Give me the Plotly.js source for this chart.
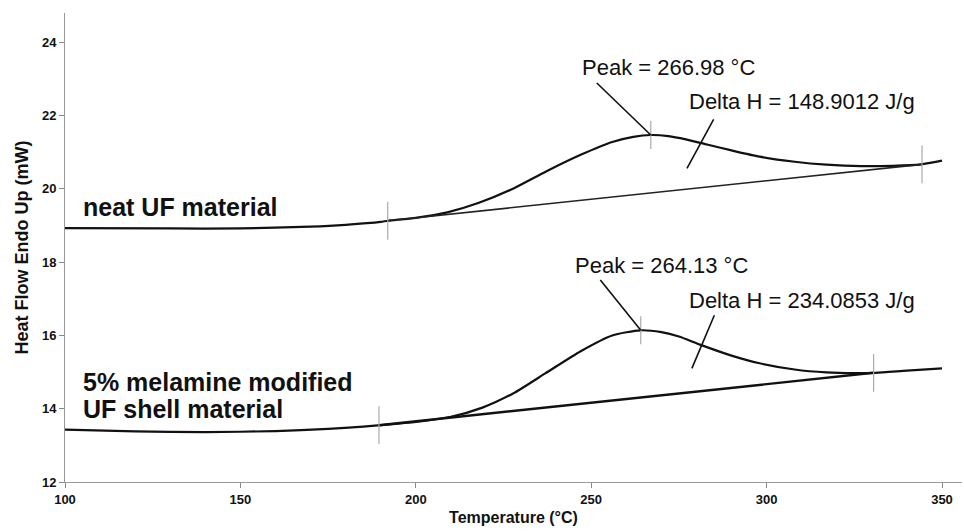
<!DOCTYPE html>
<html>
<head>
<meta charset="utf-8">
<script src="https://cdn.plot.ly/plotly-3.0.1.min.js"></script>
<style>html,body{margin:0;padding:0;background:#fff;}#chart{width:964px;height:532px;}</style>
</head>
<body>
<div id="chart"></div>
<script>
// Neat UF material DSC curve
const neatT = [100,130,150,170,180,190,192,200,209,218,228,237,247,256,262,267,272,277,283,290,298,308,317,327,336,344,350];
const neatHF = [18.93,18.92,18.92,18.97,19.02,19.10,19.13,19.21,19.36,19.62,20.02,20.47,20.93,21.28,21.42,21.47,21.44,21.35,21.21,21.05,20.88,20.74,20.66,20.62,20.63,20.67,20.77];
// 5% melamine modified UF shell material DSC curve
const melT = [100,120,140,160,175,185,190,200,210,219,228,237,247,256,264,270,275,281,290,298,308,317,325,331,340,350];
const melHF = [13.43,13.38,13.36,13.39,13.45,13.51,13.55,13.64,13.78,14.03,14.43,14.97,15.57,16.00,16.14,16.09,15.97,15.75,15.45,15.24,15.07,14.99,14.97,14.98,15.04,15.10];
// integration baselines
const neatBaseT = [192, 344.3];
const neatBaseHF = [19.13, 20.67];
const melBaseT = [189.5, 330.5];
const melBaseHF = [13.55, 14.98];
// integration limit / peak markers
const neatLimT = [192, 344.3];
const neatLimHF = [19.13, 20.67];
const neatPeakT = [266.98];
const neatPeakHF = [21.47];
const melLimT = [189.5, 330.5];
const melLimHF = [13.55, 14.98];
const melPeakT = [264.13];
const melPeakHF = [16.14];
// texts
const peakLabels = ['Peak = 266.98 °C', 'Peak = 264.13 °C'];
const deltaLabels = ['Delta H = 148.9012 J/g', 'Delta H = 234.0853 J/g'];
const sampleLabels = ['neat UF material', '5% melamine modified', 'UF shell material'];
const yTicks = [12,14,16,18,20,22,24];
const xTicks = [100,150,200,250,300,350];

const FONT = 'Liberation Sans, Arial, sans-serif';
const curveLine = {color:'#111', width:2.2, shape:'spline', smoothing:0.6};

const traces = [
  {x:neatT, y:neatHF, mode:'lines', line:curveLine, hoverinfo:'skip'},
  {x:melT, y:melHF, mode:'lines', line:curveLine, hoverinfo:'skip'},
  {x:neatBaseT, y:neatBaseHF, mode:'lines', line:{color:'#222', width:1.6}, hoverinfo:'skip'},
  {x:melBaseT, y:melBaseHF, mode:'lines', line:{color:'#111', width:2.4}, hoverinfo:'skip'},
  {x:neatLimT.concat(melLimT), y:neatLimHF.concat(melLimHF), mode:'markers',
   marker:{symbol:'line-ns-open', size:27, color:'#aaa', line:{color:'#aaa', width:1.2}}, hoverinfo:'skip'},
  {x:neatPeakT.concat(melPeakT), y:neatPeakHF.concat(melPeakHF), mode:'markers',
   marker:{symbol:'line-ns-open', size:20, color:'#aaa', line:{color:'#aaa', width:1.2}}, hoverinfo:'skip'}
];

// leader lines (annotation pointers)
const leaders = [
  [251.6, 22.89, neatPeakT[0], neatPeakHF[0]],
  [284.9, 21.90, 277.3, 20.56],
  [252.6, 17.51, melPeakT[0], melPeakHF[0]],
  [285.1, 16.55, 278.7, 15.10]
];
const shapes = leaders.map(l => ({type:'line', xref:'x', yref:'y', x0:l[0], y0:l[1], x1:l[2], y1:l[3], line:{color:'#111', width:1.6}}));

const txt = (t, x, y, size, bold) => ({text:t, x:x, y:y, xref:'x', yref:'y', xanchor:'left', yanchor:'middle', showarrow:false,
  font:{family:FONT, size:size, color:'#111', weight: bold ? 700 : 400}});

const annotations = [
  txt(peakLabels[0], 246.9, 23.30, 22, false),
  txt(deltaLabels[0], 277.3, 22.38, 22, false),
  txt(peakLabels[1], 244.9, 17.92, 22, false),
  txt(deltaLabels[1], 277.3, 16.96, 22, false),
  txt(sampleLabels[0], 104.7, 19.51, 25, true),
  txt(sampleLabels[1], 104.7, 14.73, 25, true),
  txt(sampleLabels[2], 104.7, 14.00, 25, true)
];

const layout = {
  width:964, height:532,
  margin:{l:65, r:2, t:13, b:50},
  paper_bgcolor:'#fff', plot_bgcolor:'#fff',
  showlegend:false,
  font:{family:FONT, color:'#111'},
  xaxis:{range:[100,355.7], tickvals:xTicks, ticks:'outside', ticklen:5, tickcolor:'#888',
    showgrid:false, zeroline:false, showline:true, linecolor:'#999', linewidth:1,
    tickfont:{family:FONT, size:13, weight:700, color:'#111'},
    title:{text:'Temperature (°C)', font:{family:FONT, size:16, weight:700, color:'#111'}, standoff:6}},
  yaxis:{range:[12,24.8], tickvals:yTicks, ticks:'outside', ticklen:5, tickcolor:'#888',
    showgrid:false, zeroline:false, showline:true, linecolor:'#999', linewidth:1,
    tickfont:{family:FONT, size:13, weight:700, color:'#111'},
    title:{text:'Heat Flow Endo Up (mW)', font:{family:FONT, size:18, weight:700, color:'#111'}, standoff:8}},
  shapes:shapes,
  annotations:annotations
};

Plotly.newPlot('chart', traces, layout, {staticPlot:true, displayModeBar:false});
</script>
</body>
</html>
